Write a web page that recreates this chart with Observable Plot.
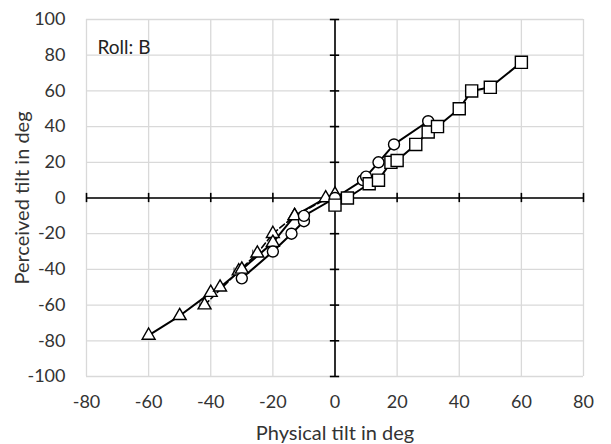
<!DOCTYPE html>
<html>
<head>
<meta charset="utf-8">
<script src="https://cdn.jsdelivr.net/npm/d3@7"></script>
<script src="https://cdn.jsdelivr.net/npm/@observablehq/plot@0.6"></script>
<style>
  body { margin: 0; background: #fff; }
  #chart { width: 611px; height: 444px; }
</style>
</head>
<body>
<div id="chart"></div>
<script>
// Tick values for both axes
const xTicks = [-80, -60, -40, -20, 0, 20, 40, 60, 80];
const yTicks = [-100, -80, -60, -40, -20, 0, 20, 40, 60, 80, 100];

// Triangle series (negative tilts)
const triX = [-60, -50, -40, -37, -30, -20, -13, -3];
const triY = [-77, -66, -53, -50, -40, -25, -10, 0];
const tri2X = [-42, -31, -25, -20, -13, 0];
const tri2Y = [-60, -41, -31, -20, -10, 2];

// Circle series
const circX = [-30, -20, -14, -10, -10, 0, 9, 10, 14, 19, 30];
const circY = [-45, -30, -20, -13, -10, 0, 10, 12, 20, 30, 43];

// Square series (positive tilts)
const sqX = [0, 4, 11, 14, 18, 20, 26, 30, 33, 40, 44, 50, 60];
const sqY = [-4, 0, 8, 10, 20, 21, 30, 37, 40, 50, 60, 62, 76];

// Small horizontal error bars
const errY = [60, 50, -60, -41, -31];
const errX1 = [42.2, 38.3, -43.5, -32.5, -26.5];
const errX2 = [44, 40, -42, -31, -25];

const zip = (xs, ys) => xs.map((x, i) => ({x, y: ys[i]}));
const tri = zip(triX, triY);
const tri2 = zip(tri2X, tri2Y);
const circ = zip(circX, circY);
const sq = zip(sqX, sqY);
const errs = errY.map((y, i) => ({y, x1: errX1[i], x2: errX2[i]}));

// Tick half-lengths on the centre axes, in data units
const tyLen = 2.6;
const txLen = 1.5;

const marker = {fill: "white", stroke: "black", strokeWidth: 1.4};
const plain = d => String(d);

const chart = Plot.plot({
  width: 611,
  height: 444,
  marginLeft: 86,
  marginRight: 28,
  marginTop: 19,
  marginBottom: 68,
  style: {fontFamily: "Lato, sans-serif", fontSize: "18px", color: "#333", background: "white"},
  x: {domain: [-80, 80], ticks: xTicks},
  y: {domain: [-100, 100], ticks: yTicks},
  marks: [
    Plot.gridX(xTicks, {stroke: "#d9d9d9", strokeOpacity: 1, strokeWidth: 1.3}),
    Plot.gridY(yTicks, {stroke: "#d9d9d9", strokeOpacity: 1, strokeWidth: 1.3}),
    Plot.axisX(xTicks, {tickSize: 0, tickPadding: 19, fontSize: 18, fill: "#333", tickFormat: plain, label: null}),
    Plot.axisY(yTicks, {tickSize: 0, tickPadding: 21, fontSize: 18, fill: "#333", tickFormat: plain, label: null}),
    // Axis titles
    Plot.text(["Physical tilt in deg"], {frameAnchor: "bottom", dy: 63, fontSize: 20, fill: "#333"}),
    Plot.text(["Perceived tilt in deg"], {frameAnchor: "left", dx: -64, rotate: -90, textAnchor: "middle", fontSize: 20, fill: "#333"}),
    // Centre axes with tick marks
    Plot.ruleY([0], {x1: -80, x2: 80, stroke: "black", strokeWidth: 1.6}),
    Plot.ruleX([0], {y1: -100, y2: 100, stroke: "black", strokeWidth: 1.6}),
    Plot.ruleX(xTicks, {x: d => d, y1: -tyLen, y2: tyLen, stroke: "black", strokeWidth: 1.6}),
    Plot.ruleY(yTicks, {y: d => d, x1: -txLen, x2: txLen, stroke: "black", strokeWidth: 1.6}),
    // Error bars
    Plot.ruleY(errs, {y: "y", x1: "x1", x2: "x2", stroke: "#444", strokeWidth: 1}),
    Plot.ruleX(errs, {x: "x1", y1: d => d.y - 1.8, y2: d => d.y + 1.8, stroke: "#444", strokeWidth: 1}),
    // Series lines
    Plot.line(tri2, {x: "x", y: "y", stroke: "black", strokeWidth: 1.6, strokeDasharray: "6,3"}),
    Plot.line(tri, {x: "x", y: "y", stroke: "black", strokeWidth: 2}),
    Plot.line(circ, {x: "x", y: "y", stroke: "black", strokeWidth: 2}),
    Plot.line(sq, {x: "x", y: "y", stroke: "black", strokeWidth: 2}),
    // Markers
    Plot.dot(tri2, {x: "x", y: "y", symbol: "triangle", r: 4.8, ...marker}),
    Plot.dot(tri, {x: "x", y: "y", symbol: "triangle", r: 4.8, ...marker}),
    Plot.dot(circ, {x: "x", y: "y", symbol: "circle", r: 5.5, ...marker}),
    Plot.dot(sq, {x: "x", y: "y", symbol: "square", r: 6.8, ...marker}),
    Plot.text(["Roll: B"], {frameAnchor: "top-left", dx: 11, dy: 21, fontSize: 19, fill: "#222", textAnchor: "start"})
  ]
});

document.getElementById("chart").appendChild(chart);
</script>
</body>
</html>
